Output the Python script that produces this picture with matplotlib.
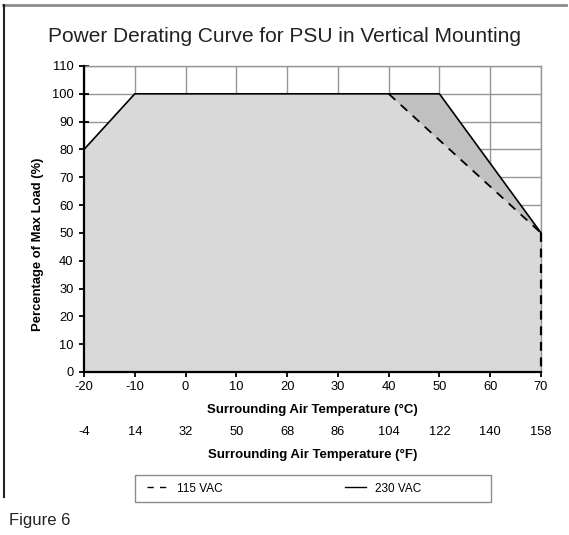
import matplotlib
matplotlib.use('Agg')
import matplotlib.pyplot as plt
from matplotlib.lines import Line2D
from matplotlib.patches import Rectangle

plt.rcParams['font.family'] = ['Liberation Sans', 'DejaVu Sans']
plt.rcParams['axes.unicode_minus'] = False

# derating curves: temperature (°C) vs percentage of max load
temp_115 = [-20, -10, 40, 70]
load_115 = [80, 100, 100, 50]
temp_230 = [-20, -10, 50, 70]
load_230 = [80, 100, 100, 50]

c_ticks = [-20, -10, 0, 10, 20, 30, 40, 50, 60, 70]
f_ticks = [-4, 14, 32, 50, 68, 86, 104, 122, 140, 158]
y_ticks = [0, 10, 20, 30, 40, 50, 60, 70, 80, 90, 100, 110]

W, H = 569, 535
fig = plt.figure(figsize=(W / 100, H / 100), dpi=100)
ax = fig.add_axes([84 / W, 1 - 372 / H, (541 - 84) / W, (372 - 66) / H])

grid_col = '#969696'

# shaded regions
ax.fill_between(temp_230, load_230, 0, color='#c0c0c0', lw=0, zorder=1)
ax.fill_between(temp_115, load_115, 0, color='#d9d9d9', lw=0, zorder=2)

ax.plot(temp_230, load_230, color='black', lw=1.2, zorder=4, clip_on=False)
ax.plot(temp_115[2:], load_115[2:], color='black', lw=1.3, ls=(0, (5, 4)), zorder=4)
ax.plot([temp_115[-1], temp_115[-1]], [load_115[-1], 0], color='black', lw=1.6,
        ls=(0, (4, 3)), zorder=4, clip_on=False)

ax.set_xlim(-20, 70)
ax.set_ylim(0, 110)
ax.set_xticks(c_ticks)
ax.set_yticks(y_ticks)
ax.grid(True, color=grid_col, lw=1.0, zorder=0)
ax.set_axisbelow(True)

for s in ['top', 'right']:
    ax.spines[s].set_color(grid_col)
    ax.spines[s].set_linewidth(1.0)
for s in ['left', 'bottom']:
    ax.spines[s].set_color('black')
    ax.spines[s].set_linewidth(1.6)
    ax.spines[s].set_zorder(5)

ax.tick_params(axis='both', direction='inout', length=7, width=1.3, labelsize=9.3,
               colors='black')
ax.tick_params(axis='x', pad=3)
ax.tick_params(axis='y', pad=4)

ax.set_xlabel('Surrounding Air Temperature (°C)', fontsize=9.5, fontweight='bold',
              labelpad=8)
ax.set_ylabel('Percentage of Max Load (%)', fontsize=9.4, fontweight='bold')
ax.yaxis.set_label_coords(-0.0875, 0.418)

# Fahrenheit scale underneath
sec = ax.secondary_xaxis(-0.175, functions=(lambda c: c * 9 / 5 + 32,
                                            lambda f: (f - 32) * 5 / 9))
sec.set_xticks(f_ticks)
sec.spines['bottom'].set_visible(False)
sec.tick_params(length=0, labelsize=9.3, pad=0)
sec.set_xlabel('Surrounding Air Temperature (°F)', fontsize=9.5, fontweight='bold',
               labelpad=8)

fig.text(0.5, 1 - 37 / H, 'Power Derating Curve for PSU in Vertical Mounting',
         ha='center', va='center', fontsize=15, color='#222222')
fig.text(9 / W, 1 - 520 / H, 'Figure 6', ha='left', va='center', fontsize=12,
         color='#222222')

# legend box with two entries
fig.add_artist(Rectangle((135 / W, 1 - 502 / H), 356 / W, 27 / H, fill=False,
                         edgecolor='#8c8c8c', lw=1.0, transform=fig.transFigure))
handles = [Line2D([], [], color='black', lw=1, ls=(0, (4.5, 4.5))),
           Line2D([], [], color='black', lw=1)]
fig.legend(handles, ['115 VAC', '230 VAC'], ncol=2, loc='center left',
           bbox_to_anchor=(147 / W, 1 - 488.5 / H), fontsize=8.5, frameon=False,
           borderpad=0, borderaxespad=0, handlelength=1.8, handletextpad=0.75,
           columnspacing=10.35)

# frame lines around the figure
fig.add_artist(Line2D([3 / W, 566 / W], [1 - 5 / H, 1 - 5 / H], color='#8c8c8c', lw=2))
fig.add_artist(Line2D([4 / W, 4 / W], [1 - 5 / H, 1 - 497 / H], color='#222222', lw=1.5))

fig.savefig('out.png', dpi=100)
